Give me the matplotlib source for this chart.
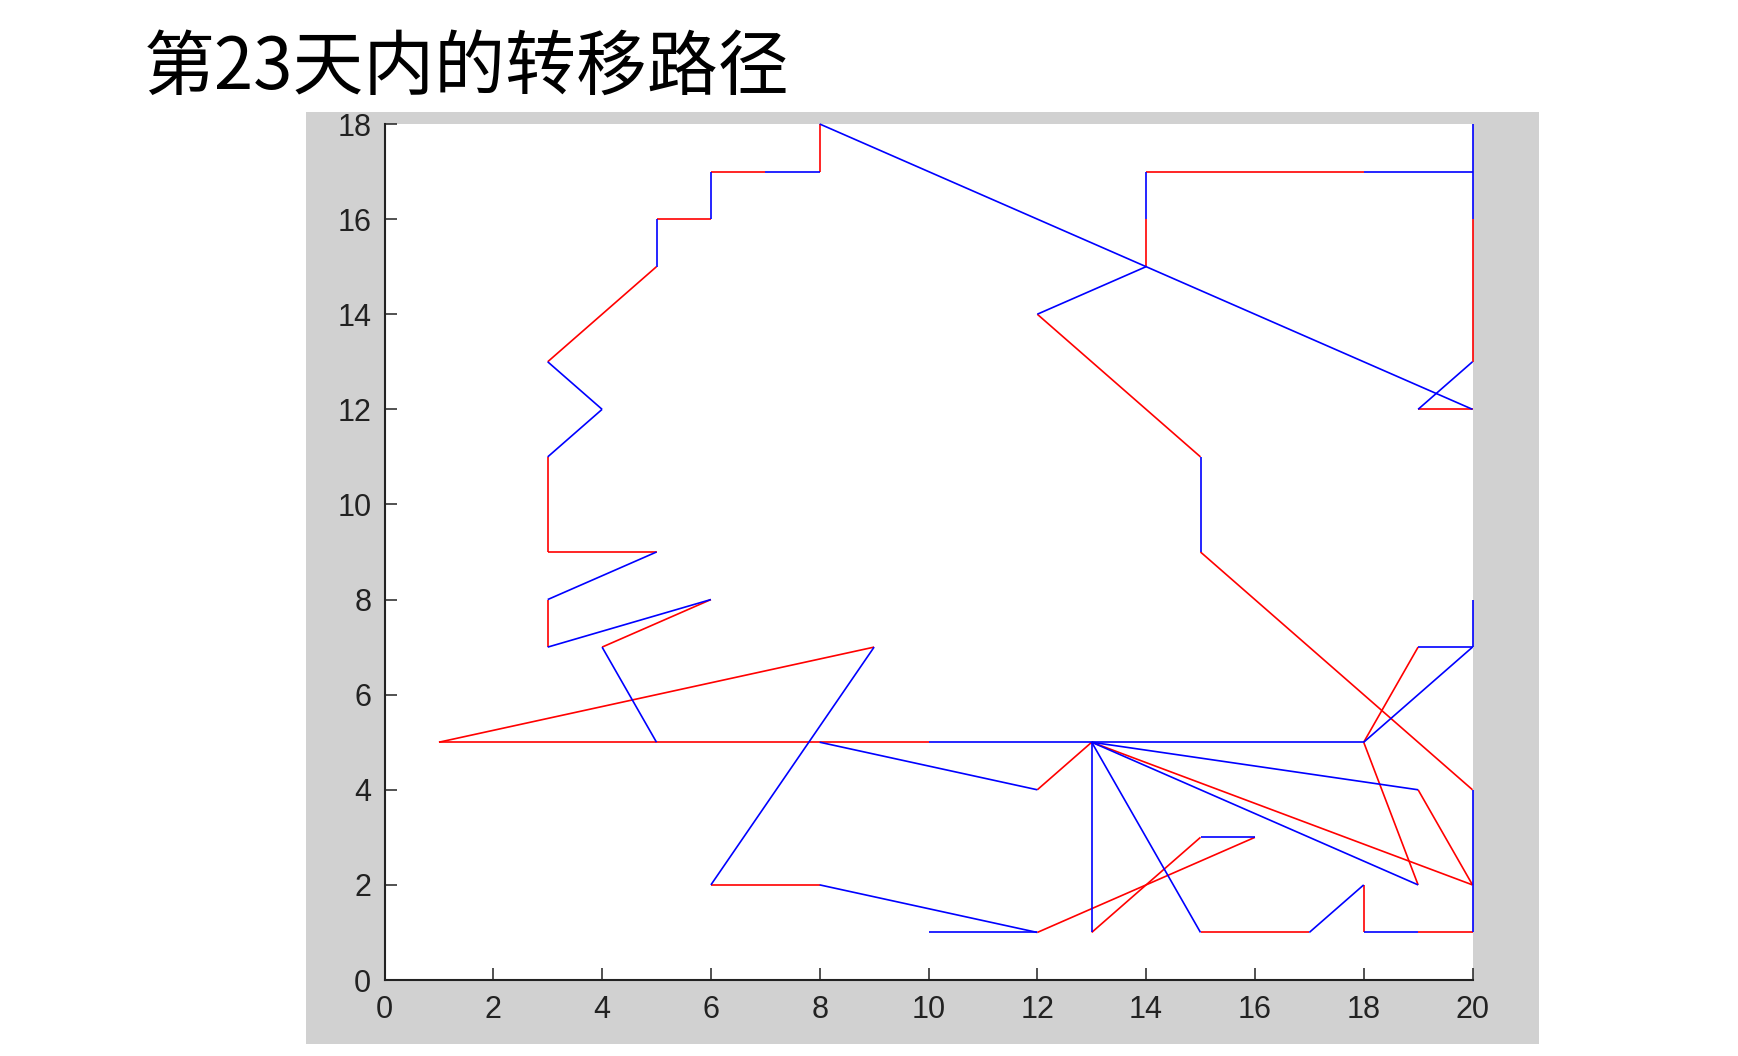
import matplotlib
matplotlib.use("Agg")
import matplotlib.pyplot as plt

# ---- data: path segments (start x, start y, end x, end y) ----
red_x0 = [3, 5, 6, 8, 3, 3, 3, 4, 1, 1, 6, 12, 12, 13, 15, 18, 19, 20, 15, 14, 14, 20, 19, 19, 13, 18, 18]
red_y0 = [13, 16, 17, 17, 11, 9, 8, 7, 5, 5, 2, 4, 1, 1, 1, 2, 1, 4, 11, 15, 17, 16, 12, 4, 5, 5, 5]
red_x1 = [5, 6, 7, 8, 3, 5, 3, 6, 9, 10, 8, 13, 16, 15, 17, 18, 20, 15, 12, 14, 18, 20, 20, 20, 20, 19, 19]
red_y1 = [15, 16, 17, 18, 9, 9, 7, 8, 7, 5, 2, 5, 3, 3, 1, 1, 1, 9, 14, 16, 17, 13, 12, 2, 2, 2, 7]

blue_x0 = [5, 6, 7, 8, 3, 4, 5, 3, 4, 10, 9, 8, 10, 8, 15, 13, 13, 17, 18, 20, 15, 12, 14, 18, 20, 20, 13, 13, 18, 19, 20]
blue_y0 = [15, 16, 17, 18, 13, 12, 9, 7, 7, 5, 7, 2, 1, 5, 3, 5, 5, 1, 1, 1, 9, 14, 16, 17, 18, 13, 5, 5, 5, 7, 7]
blue_x1 = [5, 6, 8, 20, 4, 3, 3, 6, 5, 18, 6, 12, 12, 12, 16, 13, 15, 18, 19, 20, 15, 14, 14, 20, 20, 19, 19, 19, 20, 20, 20]
blue_y1 = [16, 17, 17, 12, 12, 11, 8, 8, 5, 5, 2, 1, 1, 4, 3, 1, 1, 2, 1, 4, 11, 15, 17, 17, 16, 12, 4, 2, 7, 7, 8]

x_ticks = [0, 2, 4, 6, 8, 10, 12, 14, 16, 18, 20]
y_ticks = [0, 2, 4, 6, 8, 10, 12, 14, 16, 18]
title_text = "第23天内的转移路径"

W, H = 1738, 1056
fig = plt.figure(figsize=(W / 100, H / 100), dpi=100)
fig.patch.set_facecolor("white")

# gray MATLAB figure panel
bg = fig.add_axes([306 / W, 1 - 1044 / H, (1539 - 306) / W, (1044 - 112) / H])
bg.set_facecolor("#d1d1d1")
bg.set_xticks([])
bg.set_yticks([])
for s in bg.spines.values():
    s.set_visible(False)
bg.set_zorder(0)

fig.text(144 / W, 1 - 68 / H, title_text, fontsize=51, ha="left", va="center",
         family=["Noto Sans CJK SC", "DejaVu Sans"], fontweight="medium", color="black")

ax = fig.add_axes([384.5 / W, 1 - 980 / H, (1472.5 - 384.5) / W, (980 - 124) / H])
ax.set_zorder(1)
ax.set_facecolor("white")

lw = 1.2
for a, b, c, d in zip(red_x0, red_y0, red_x1, red_y1):
    ax.plot([a, c], [b, d], color="#ff0000", lw=lw, solid_capstyle="butt", clip_on=False)
for a, b, c, d in zip(blue_x0, blue_y0, blue_x1, blue_y1):
    ax.plot([a, c], [b, d], color="#0000ff", lw=lw, solid_capstyle="butt", clip_on=False)

ax.set_xlim(0, 20)
ax.set_ylim(0, 18)
ax.set_xticks(x_ticks)
ax.set_yticks(y_ticks)
ax.set_xticklabels([str(t) for t in x_ticks])
ax.set_yticklabels([str(t) for t in y_ticks])
for s in ["top", "right"]:
    ax.spines[s].set_visible(False)
for s in ["left", "bottom"]:
    ax.spines[s].set_color("#222222")
    ax.spines[s].set_linewidth(1.5)
ax.tick_params(axis="both", direction="in", length=8.5, width=1.1, color="#222222",
               labelcolor="#222222", labelsize=22)
ax.tick_params(axis="x", pad=10.5)
ax.tick_params(axis="y", pad=9.5)
for lab in ax.get_xticklabels() + ax.get_yticklabels():
    lab.set_family(["Liberation Sans Narrow", "Liberation Sans", "DejaVu Sans"])

fig.savefig("out.png", dpi=100)
